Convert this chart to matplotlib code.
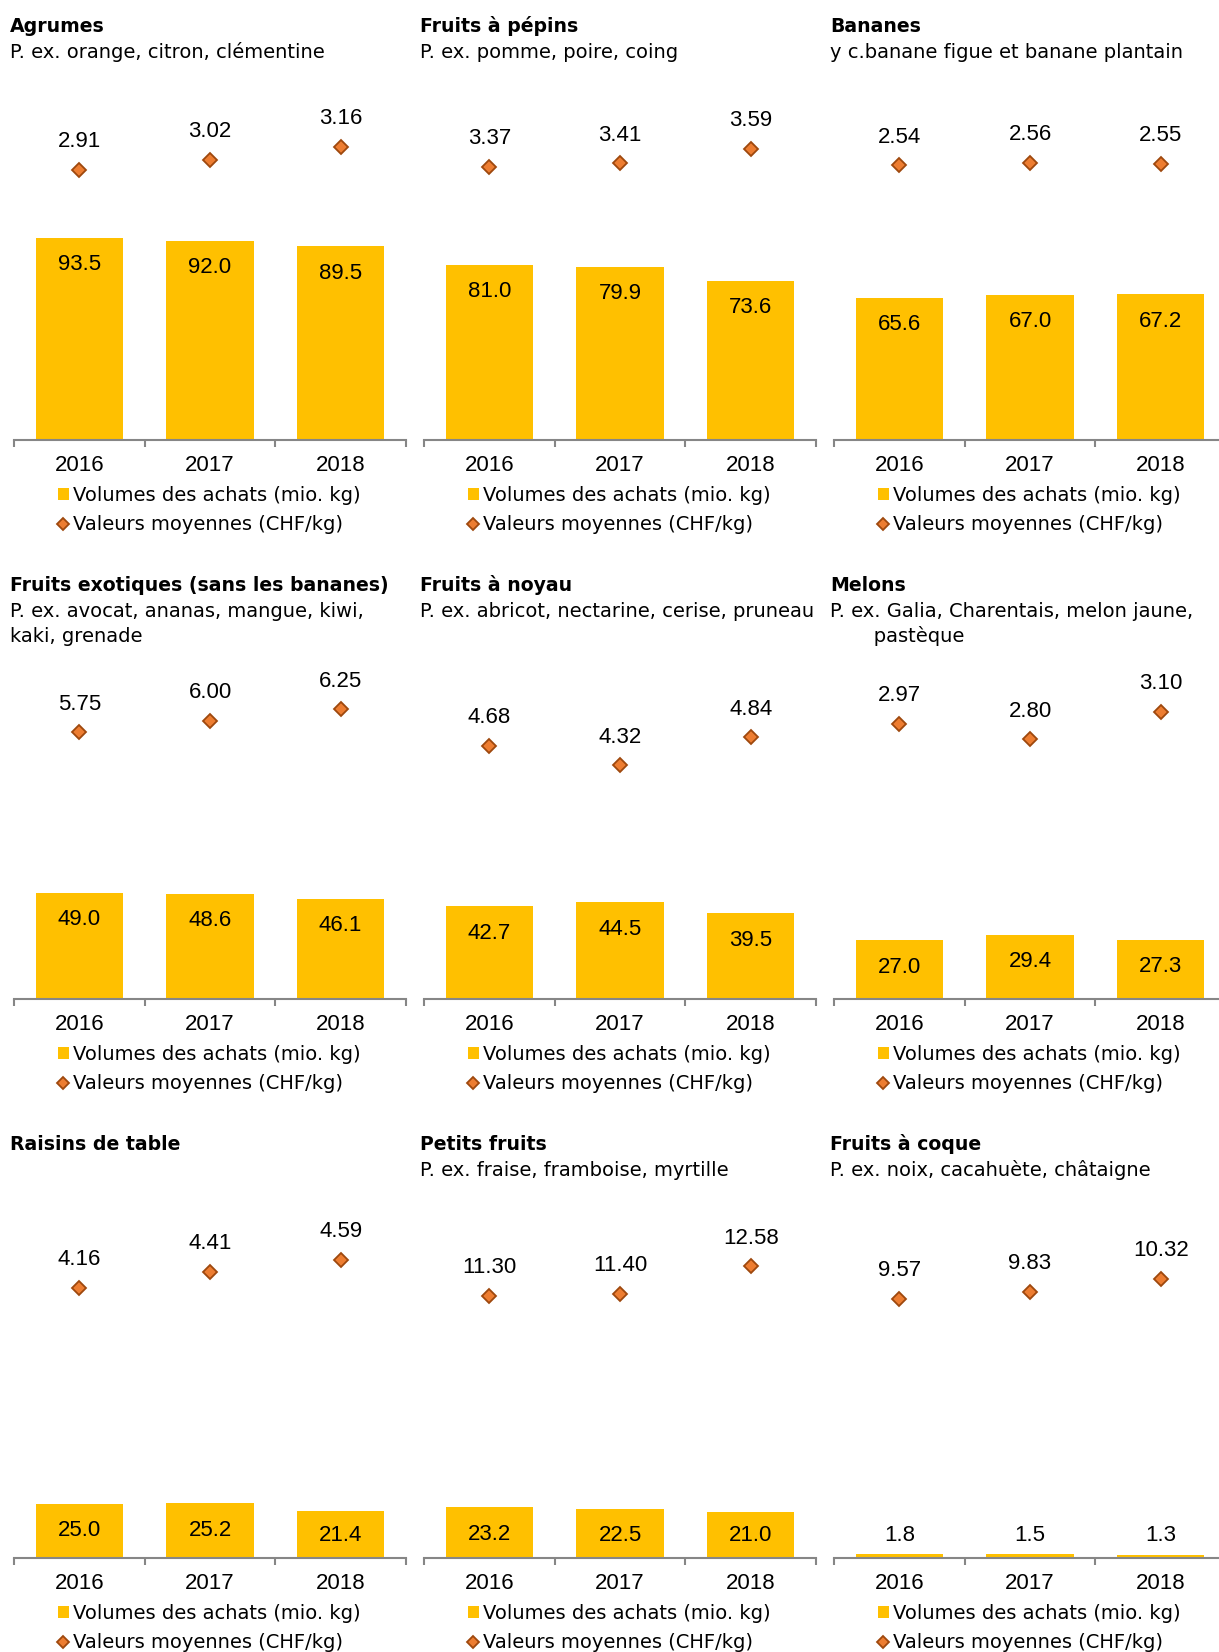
import numpy as np
import matplotlib.pyplot as plt

plt.rcParams['font.family'] = ['Liberation Sans', 'DejaVu Sans']

#%% donnees
annees = ['2016', '2017', '2018']

vol_agrumes = [93.5, 92.0, 89.5]
prix_agrumes = [2.91, 3.02, 3.16]
vol_pepins = [81.0, 79.9, 73.6]
prix_pepins = [3.37, 3.41, 3.59]
vol_bananes = [65.6, 67.0, 67.2]
prix_bananes = [2.54, 2.56, 2.55]
vol_exotiques = [49.0, 48.6, 46.1]
prix_exotiques = [5.75, 6.00, 6.25]
vol_noyau = [42.7, 44.5, 39.5]
prix_noyau = [4.68, 4.32, 4.84]
vol_melons = [27.0, 29.4, 27.3]
prix_melons = [2.97, 2.80, 3.10]
vol_raisins = [25.0, 25.2, 21.4]
prix_raisins = [4.16, 4.41, 4.59]
vol_petits = [23.2, 22.5, 21.0]
prix_petits = [11.30, 11.40, 12.58]
vol_coque = [1.8, 1.5, 1.3]
prix_coque = [9.57, 9.83, 10.32]

titres = ['Agrumes', 'Fruits à pépins', 'Bananes',
          'Fruits exotiques (sans les bananes)', 'Fruits à noyau', 'Melons',
          'Raisins de table', 'Petits fruits', 'Fruits à coque']
sous_titres = [['P. ex. orange, citron, clémentine'],
               ['P. ex. pomme, poire, coing'],
               ['y c.banane figue et banane plantain'],
               ['P. ex. avocat, ananas, mangue, kiwi,', 'kaki, grenade'],
               ['P. ex. abricot, nectarine, cerise, pruneau'],
               ['P. ex. Galia, Charentais, melon jaune,', '       pastèque'],
               [],
               ['P. ex. fraise, framboise, myrtille'],
               ['P. ex. noix, cacahuète, châtaigne']]

volumes = [vol_agrumes, vol_pepins, vol_bananes, vol_exotiques, vol_noyau,
           vol_melons, vol_raisins, vol_petits, vol_coque]
prix = [prix_agrumes, prix_pepins, prix_bananes, prix_exotiques, prix_noyau,
        prix_melons, prix_raisins, prix_petits, prix_coque]

# echelles des axes (max axe volumes, max axe prix)
vmax = 150
pmax = [3.5, 4, 3, 7, 6, 3.5, 5, 14, 12]

leg_labels = ['Volumes des achats (mio. kg)', 'Valeurs moyennes (CHF/kg)']

#%% mise en page (pixels)
W, H = 1219, 1652
fig = plt.figure(figsize=(W/100, H/100), dpi=100)

col_x = [14, 424, 834]
row_axe = [439.5, 998.5, 1557.5]
pw, ph = 392, 324
pas = 559

jaune = '#FFC000'
orange = '#ED7D31'
brun = '#9E480E'
gris = '#868686'
petit = ['DejaVu Sans']  # texte plus large, comme dans l'original
fs_petit = 14

x = np.arange(3)
for i in range(9):
    r, c = divmod(i, 3)
    x0 = col_x[c]
    yb = row_axe[r]
    ax = fig.add_axes([x0/W, 1 - yb/H, pw/W, ph/H])
    ax2 = ax.twinx()

    barres = ax.bar(x, volumes[i], width=0.67, color=jaune, zorder=1)
    ax.set_xlim(-0.5, 2.5)
    ax.set_ylim(0, vmax)
    u = vmax / ph  # unite par pixel
    for xi, v in zip(x, volumes[i]):
        yl = max(v - 32.5*u, 16.2*u)
        ax.text(xi, yl, f'{v:.1f}', ha='center', va='baseline', fontsize=16)

    ligne, = ax2.plot(x, prix[i], 'D', ls='none', ms=7.3, mfc=orange,
                      mec=brun, mew=1.3)
    ax2.set_ylim(0, pmax[i])
    for xi, p in zip(x, prix[i]):
        ax2.annotate(f'{p:.2f}', (xi, p), xytext=(0, 16.3),
                     textcoords='offset points', ha='center', va='baseline',
                     fontsize=16)

    for a in (ax, ax2):
        for s in ['top', 'left', 'right']:
            a.spines[s].set_visible(False)
        a.set_yticks([])
    ax2.spines['bottom'].set_visible(False)
    ax.spines['bottom'].set_color(gris)
    ax.spines['bottom'].set_linewidth(1.5)
    ax.set_xticks(x)
    ax.set_xticklabels(annees, fontsize=16)
    ax.tick_params(axis='x', which='major', length=0, pad=11.5)
    ax.set_xticks([-0.5, 0.5, 1.5, 2.5], minor=True)
    ax.tick_params(axis='x', which='minor', length=5, width=1.5, color=gris)
    ax2.tick_params(axis='x', length=0, labelbottom=False)

    leg = ax2.legend([barres, ligne], leg_labels, loc='upper left',
                     bbox_to_anchor=((x0 + 44)/W, 1 - (486 + r*pas)/H),
                     bbox_transform=fig.transFigure, frameon=False,
                     prop={'family': petit, 'size': fs_petit},
                     handlelength=0.55, handleheight=0.55, handletextpad=0.22,
                     labelspacing=0.52, borderpad=0, borderaxespad=0,
                     markerscale=0.82, numpoints=1)

    # titres
    tx = (x0 - 4) / W
    fig.text(tx, 1 - (32.3 + r*pas)/H, titres[i], fontsize=13.6,
             family=petit, fontweight='bold', va='baseline')
    for k, ligne_txt in enumerate(sous_titres[i]):
        fig.text(tx, 1 - (58.3 + 25*k + r*pas)/H, ligne_txt,
                 fontsize=fs_petit, family=petit, va='baseline')

plt.savefig('out.png', dpi=100)
